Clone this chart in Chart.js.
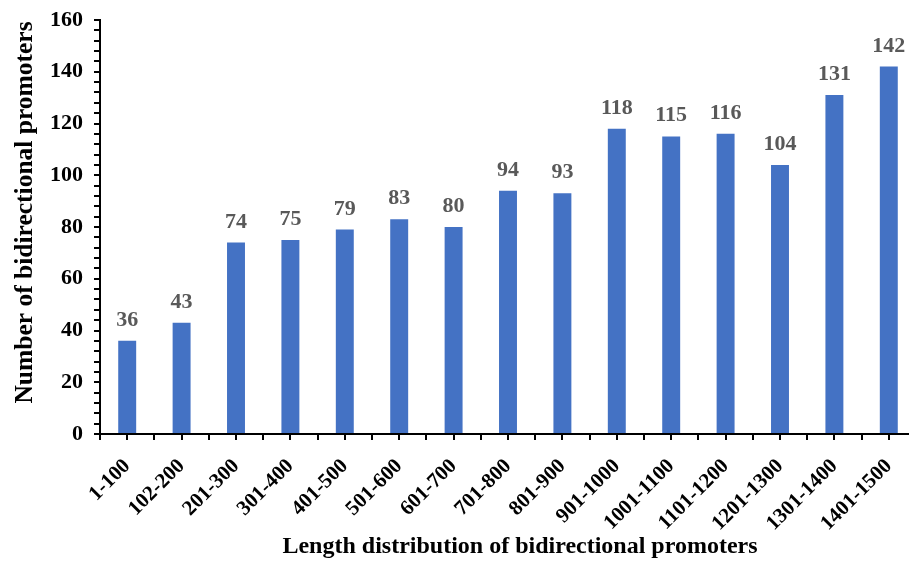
<!DOCTYPE html>
<html>
<head>
<meta charset="utf-8">
<script src="https://cdn.jsdelivr.net/npm/chart.js@4.4.1/dist/chart.umd.min.js"></script>
<style>
  html, body { margin: 0; padding: 0; background: #fff; overflow: hidden; }
  #wrap { width: 916px; height: 570px; }
</style>
</head>
<body>
<div id="wrap"><canvas id="c" width="916" height="570"></canvas></div>
<script>
// Promoter length bins and counts
const categories = ['1-100', '102-200', '201-300', '301-400', '401-500', '501-600', '601-700',
  '701-800', '801-900', '901-1000', '1001-1100', '1101-1200', '1201-1300', '1301-1400', '1401-1500'];
const counts = [36, 43, 74, 75, 79, 83, 80, 94, 93, 118, 115, 116, 104, 131, 142];
const yTickLabels = [0, 20, 40, 60, 80, 100, 120, 140, 160];
const xTitle = 'Length distribution of bidirectional promoters';
const yTitle = 'Number of bidirectional promoters';

const SERIF = '"Liberation Serif", "Times New Roman", serif';

// Value labels above each bar
const valueLabels = {
  id: 'valueLabels',
  afterDatasetsDraw(chart) {
    const ctx = chart.ctx;
    const meta = chart.getDatasetMeta(0);
    ctx.save();
    ctx.font = 'bold 22px ' + SERIF;
    ctx.fillStyle = '#595959';
    ctx.textAlign = 'center';
    ctx.textBaseline = 'alphabetic';
    meta.data.forEach((bar, i) => {
      ctx.fillText(String(chart.data.datasets[0].data[i]), bar.x, bar.y - 15);
    });
    ctx.restore();
  }
};

// Extra tick marks under the centre of each category
const centreTicks = {
  id: 'centreTicks',
  afterDraw(chart) {
    const x = chart.scales.x;
    const ctx = chart.ctx;
    ctx.save();
    ctx.strokeStyle = '#000';
    ctx.lineWidth = 2;
    ctx.beginPath();
    for (let i = 0; i < categories.length; i++) {
      const px = Math.round(x.getPixelForValue(i));
      ctx.moveTo(px, x.top);
      ctx.lineTo(px, x.top + 6);
    }
    ctx.stroke();
    ctx.restore();
  }
};

// Axis titles, placed relative to the plot area
const axisTitles = {
  id: 'axisTitles',
  afterDraw(chart) {
    const ctx = chart.ctx;
    const a = chart.chartArea;
    ctx.save();
    ctx.fillStyle = '#000';
    ctx.textAlign = 'center';
    ctx.textBaseline = 'alphabetic';
    ctx.font = 'bold 24px ' + SERIF;
    ctx.fillText(xTitle, 520, a.bottom + 119);
    ctx.font = 'bold 25.5px ' + SERIF;
    ctx.translate(a.left - 68, (a.top + a.bottom) / 2 - 14.5);
    ctx.rotate(-Math.PI / 2);
    ctx.fillText(yTitle, 0, 0);
    ctx.restore();
  }
};

new Chart(document.getElementById('c'), {
  type: 'bar',
  data: {
    labels: categories,
    datasets: [{
      data: counts,
      backgroundColor: '#4472C4',
      borderWidth: 0,
      categoryPercentage: 1,
      barPercentage: 0.33
    }]
  },
  options: {
    responsive: false,
    animation: false,
    layout: { padding: { top: 20, right: 0, bottom: 0, left: 0 } },
    plugins: { legend: { display: false }, tooltip: { enabled: false } },
    scales: {
      x: {
        offset: true,
        grid: { offset: true, drawOnChartArea: false, drawTicks: true, tickLength: 6, color: '#000', lineWidth: 2 },
        border: { display: true, color: '#000', width: 2 },
        ticks: {
          color: '#000', font: { family: SERIF, size: 21, weight: 'bold' },
          minRotation: 45, maxRotation: 45, autoSkip: false, padding: 14
        },
        afterFit(scale) {
          scale.height = 570 - 434;
          scale.paddingLeft = 0;
          scale.paddingRight = 0;
        }
      },
      y: {
        min: 0, max: 160,
        grid: { drawOnChartArea: false, drawTicks: true, tickLength: 6, color: '#000', lineWidth: 2 },
        border: { display: true, color: '#000', width: 2 },
        ticks: {
          stepSize: 4, autoSkip: false, color: '#000', padding: 11,
          font: { family: SERIF, size: 22, weight: 'bold' },
          callback: (v) => yTickLabels.includes(v) ? String(v) : ''
        },
        afterFit(scale) {
          scale.width = 100;
          scale.paddingTop = 0;
          scale.paddingBottom = 0;
        }
      }
    }
  },
  plugins: [valueLabels, centreTicks, axisTitles]
});
</script>
</body>
</html>
